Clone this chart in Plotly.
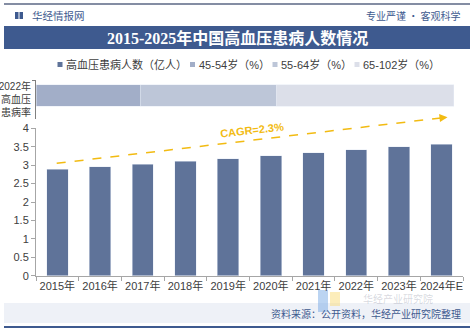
import plotly.graph_objects as go

W, H = 474, 329

years = ["2015年", "2016年", "2017年", "2018年", "2019年", "2020年",
         "2021年", "2022年", "2023年", "2024年E"]
patients = [2.89, 2.96, 3.02, 3.10, 3.18, 3.26, 3.34, 3.42, 3.50, 3.57]

rate_category = ["2022年<br>高血压<br>患病率"]
age_groups = ["45-54岁（%）", "55-64岁（%）", "65-102岁（%）"]
age_rates = [24.4, 31.9, 41.5]

series_name = "高血压患病人数（亿人）"
title_text = "2015-2025年中国高血压患病人数情况"
cagr_text = "CAGR=2.3%"
source_text = "资料来源：公开资料，华经产业研究院整理"

BAR = "#5f7399"
AGE_COLORS = ["#a2aec8", "#bdc6d8", "#dcdfe9"]
NAVY = "#3e5a8f"
GOLD = "#f2bb12"
FONT = "Liberation Sans, Noto Sans CJK SC, sans-serif"


def px(x):
    return x / W


def py(y):
    return 1 - y / H


fig = go.Figure()

fig.add_trace(go.Bar(
    x=years, y=patients, name=series_name, marker_color=BAR,
    width=0.5, xaxis="x", yaxis="y", showlegend=False,
))

for name, val, col in zip(age_groups, age_rates, AGE_COLORS):
    fig.add_trace(go.Bar(
        x=[val], y=rate_category, orientation="h", name=name,
        marker_color=col, width=0.551, offset=-0.179,
        xaxis="x2", yaxis="y2", showlegend=False,
    ))

axis_line = "#a6a6a6"
fig.update_layout(
    width=W, height=H, margin=dict(l=0, r=0, t=0, b=0, autoexpand=False),
    paper_bgcolor="white", plot_bgcolor="rgba(0,0,0,0)",
    barmode="stack", bargap=0.5,
    font=dict(family=FONT, size=11, color="#404040"),
    xaxis=dict(domain=[px(36), px(463)], type="category",
               showline=True, linecolor=axis_line, linewidth=1,
               ticks="outside", ticklen=4, tickcolor=axis_line,
               tickson="boundaries", showgrid=False, tickangle=0,
               automargin=False,
               tickfont=dict(size=11, color="#404040"), anchor="y"),
    yaxis=dict(domain=[py(275.7), py(128.3)], range=[0, 4],
               dtick=0.5, showline=True, linecolor=axis_line,
               linewidth=1, ticks="outside", ticklen=4,
               tickcolor=axis_line, showgrid=False, zeroline=False,
               tickformat="~g", automargin=False,
               tickfont=dict(size=11, color="#404040"), anchor="x"),
    xaxis2=dict(domain=[px(36), px(463)], range=[0, 100], visible=False,
                automargin=False, anchor="y2"),
    yaxis2=dict(domain=[py(119), py(80)], type="category",
                range=[-0.5, 0.5], showline=True, linecolor="#808080",
                linewidth=1, ticks="outside", ticklen=3,
                tickcolor="#808080", tickson="boundaries",
                ticklabelstandoff=2,
                showgrid=False, automargin=False,
                tickfont=dict(size=10, color="#404040"),
                anchor="x2"),
)

shapes = []
annotations = []

# top thin line
shapes.append(dict(type="line", xref="paper", yref="paper",
                   x0=px(4), x1=px(470), y0=py(4), y1=py(4),
                   line=dict(color="#5b6785", width=1.5)))
# header icon
shapes.append(dict(type="rect", xref="paper", yref="paper",
                   x0=px(15), x1=px(18.5), y0=py(19), y1=py(12),
                   fillcolor=NAVY, line=dict(width=0)))
shapes.append(dict(type="rect", xref="paper", yref="paper",
                   x0=px(19.5), x1=px(23), y0=py(19), y1=py(12),
                   fillcolor=NAVY, line=dict(width=0)))
annotations.append(dict(xref="paper", yref="paper", x=px(30), y=py(15),
                        text="华经情报网", showarrow=False, xanchor="left",
                        yanchor="middle",
                        font=dict(size=10.5, color=NAVY,
                                  family="Noto Sans CJK SC")))
annotations.append(dict(xref="paper", yref="paper", x=px(462), y=py(15),
                        text="专业严谨 • 客观科学", showarrow=False,
                        xanchor="right", yanchor="middle",
                        font=dict(size=10, color=NAVY,
                                  family="Noto Sans CJK SC")))
# title bar
shapes.append(dict(type="rect", xref="paper", yref="paper",
                   x0=px(4), x1=px(470), y0=py(49), y1=py(26),
                   fillcolor=NAVY, line=dict(width=0), layer="below"))
annotations.append(dict(xref="paper", yref="paper", x=0.5, y=py(37.5),
                        text="<b>" + title_text + "</b>", showarrow=False,
                        xanchor="center", yanchor="middle",
                        font=dict(size=16, color="white",
                                  family="Liberation Serif, Noto Sans CJK SC")))

# manual legend
legend_items = [(series_name, BAR, 60)] + [
    (n, c, x) for n, c, x in zip(age_groups, AGE_COLORS, [192.5, 275, 357])]
for name, col, x in legend_items:
    shapes.append(dict(type="rect", xref="paper", yref="paper",
                       x0=px(x - 2.5), x1=px(x + 2.5),
                       y0=py(67), y1=py(62),
                       fillcolor=col, line=dict(width=0)))
    annotations.append(dict(xref="paper", yref="paper", x=px(x + 4),
                            y=py(64.5), text=name, showarrow=False,
                            xanchor="left", yanchor="middle",
                            font=dict(size=11, color="#404040")))

# CAGR dashed trend arrow
sx, sy, ex, ey = 56.7, 163.3, 442.0, 117.8
shapes.append(dict(type="line", xref="paper", yref="paper",
                   x0=px(sx), y0=py(sy), x1=px(ex), y1=py(ey),
                   line=dict(color=GOLD, width=1.5, dash="dash")))
annotations.append(dict(xref="paper", yref="paper", x=px(447.5), y=py(117.2),
                        ax=-9, ay=1, text="", showarrow=True, arrowhead=2,
                        arrowsize=1, arrowwidth=1.6, arrowcolor=GOLD))
annotations.append(dict(xref="paper", yref="paper", x=px(252), y=py(130),
                        text="<b>" + cagr_text + "</b>", showarrow=False,
                        textangle=-6.5, xanchor="center", yanchor="middle",
                        font=dict(size=11, color=GOLD)))

# footer band
shapes.append(dict(type="rect", xref="paper", yref="paper",
                   x0=px(4), x1=px(470), y0=py(323), y1=py(303),
                   fillcolor="#eef1f7", line=dict(width=0), layer="below"))
annotations.append(dict(xref="paper", yref="paper", x=px(463), y=py(313),
                        text=source_text, showarrow=False, xanchor="right",
                        yanchor="middle",
                        font=dict(size=10, color=NAVY,
                                  family="Noto Sans CJK SC")))
shapes.append(dict(type="line", xref="paper", yref="paper",
                   x0=px(4), x1=px(470), y0=py(327), y1=py(327),
                   line=dict(color=NAVY, width=2)))

# faint watermark (bottom right)
shapes.append(dict(type="rect", xref="paper", yref="paper",
                   x0=px(318), x1=px(328), y0=py(312), y1=py(290),
                   fillcolor="rgba(120,170,230,0.5)", line=dict(width=0),
                   layer="below"))
shapes.append(dict(type="rect", xref="paper", yref="paper",
                   x0=px(330), x1=px(340), y0=py(306), y1=py(292),
                   fillcolor="rgba(250,220,120,0.5)", line=dict(width=0),
                   layer="below"))
annotations.append(dict(xref="paper", yref="paper", x=px(398), y=py(298.5),
                        text="华经产业研究院", showarrow=False,
                        xanchor="center", yanchor="middle",
                        font=dict(size=10, color="rgba(120,130,150,0.3)",
                                  family="Noto Sans CJK SC")))

fig.update_layout(shapes=shapes, annotations=annotations)
fig.write_html("out.html")
